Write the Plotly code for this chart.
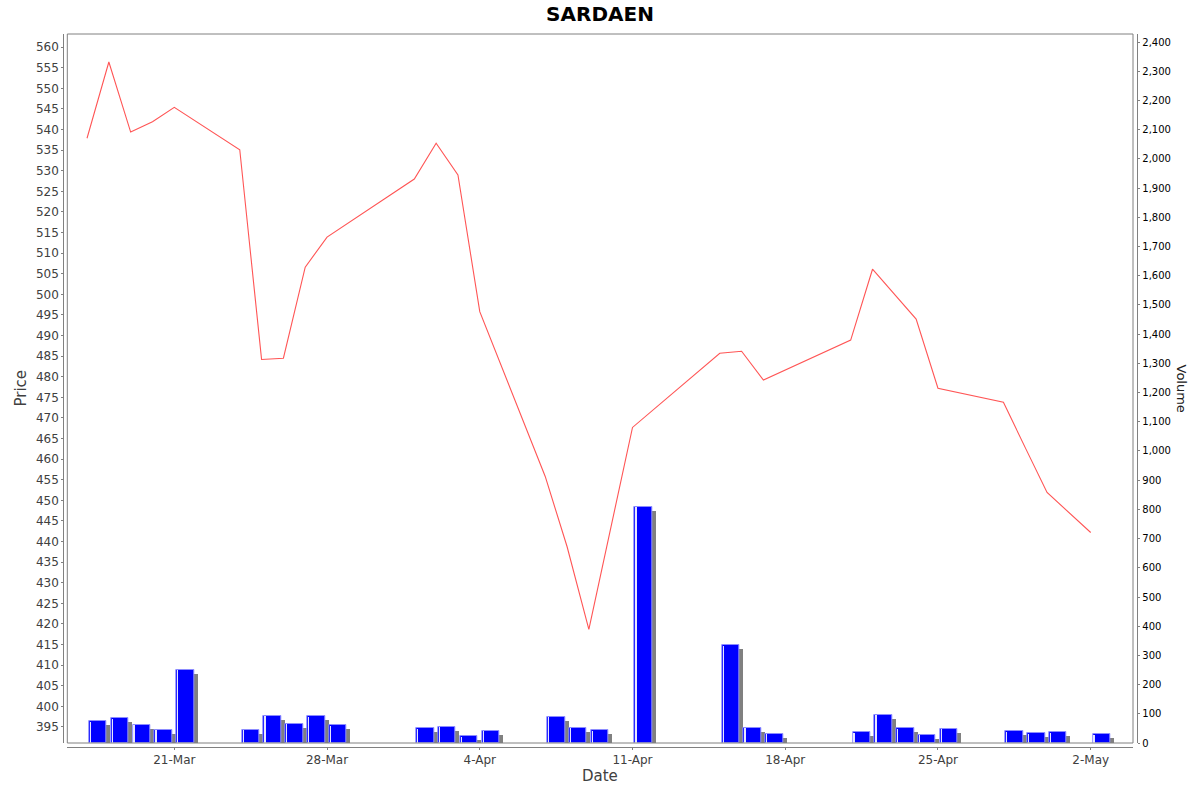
import pandas as pd
import plotly.graph_objects as go

# ---------------- data ----------------
dates = ["2024-03-17", "2024-03-18", "2024-03-19", "2024-03-20", "2024-03-21",
         "2024-03-24", "2024-03-25", "2024-03-26", "2024-03-27", "2024-03-28",
         "2024-04-01", "2024-04-02", "2024-04-03", "2024-04-04",
         "2024-04-07", "2024-04-08", "2024-04-09", "2024-04-11",
         "2024-04-15", "2024-04-16", "2024-04-17",
         "2024-04-21", "2024-04-22", "2024-04-23", "2024-04-24", "2024-04-25",
         "2024-04-28", "2024-04-29", "2024-04-30", "2024-05-02"]

prices = [537.9, 556.4, 539.4, 541.9, 545.4,
          535.1, 484.2, 484.5, 506.6, 513.9,
          528.0, 536.7, 529.0, 495.8,
          455.8, 438.8, 418.7, 467.7,
          485.7, 486.2, 479.2,
          488.9, 506.1, 500.0, 494.0, 477.2,
          473.8, 462.8, 451.9, 442.2]

volumes = [75, 84, 63, 45, 251,
           45, 94, 66, 91, 61,
           51, 56, 23, 42,
           90, 53, 43, 809,
           335, 53, 32,
           36, 97, 51, 29, 49,
           40, 33, 37, 30]

tick_dates = ["2024-03-21", "2024-03-28", "2024-04-04", "2024-04-11",
              "2024-04-18", "2024-04-25", "2024-05-02"]

title_text = "SARDAEN"

# ---------------- geometry / style ----------------
W, H = 1200, 792
ML, MR, MT, MB = 60, 60, 30, 40
PW, PH = W - ML - MR, H - MT - MB


def px_x(p):
    return (p - ML) / PW


def px_y(p):
    return (H - MB - p) / PH


plot_left, plot_right, plot_top, plot_bottom = 67.3, 1133.0, 34.0, 743.0
xdom = [px_x(plot_left), px_x(plot_right)]
ydom = [px_y(plot_bottom), px_y(plot_top)]

px_per_day = 21.819
vol_px_per_unit = 0.2918
day_ms = 86400000

d = pd.to_datetime(dates)
bar_center = d + pd.Timedelta(hours=12)
shadow_shift = pd.Timedelta(days=4 / px_per_day)
shadow_drop = 4 / vol_px_per_unit
shadow_x = bar_center + shadow_shift
shadow_y = [v - shadow_drop for v in volumes]
stripe_x = d + pd.Timedelta(days=0.17)

font = "DejaVu Sans"
axis_gray = "#808080"
label_gray = "#404040"

fig = go.Figure()

fig.add_trace(go.Bar(x=shadow_x, y=shadow_y, width=0.8 * day_ms,
                     marker=dict(color="#808080", line=dict(width=0)),
                     yaxis="y2", showlegend=False, hoverinfo="skip"))
fig.add_trace(go.Bar(x=bar_center, y=volumes, width=0.8 * day_ms,
                     marker=dict(color="#0000ff", line=dict(color="#8c8cff", width=1)),
                     yaxis="y2", showlegend=False, name="Volume"))
fig.add_trace(go.Bar(x=stripe_x, y=[v - 1.5 for v in volumes], width=0.06 * day_ms,
                     marker=dict(color="rgba(255,255,255,0.9)", line=dict(width=0)),
                     yaxis="y2", showlegend=False, hoverinfo="skip"))
fig.add_trace(go.Scatter(x=d, y=prices, mode="lines",
                         line=dict(color="#ff5555", width=1.1),
                         yaxis="y", showlegend=False, name="Price"))

fig.update_layout(
    width=W, height=H,
    margin=dict(l=ML, r=MR, t=MT, b=MB, autoexpand=False),
    paper_bgcolor="white", plot_bgcolor="white",
    barmode="overlay", bargap=0,
    font=dict(family=font, color=label_gray),
    title=dict(text="<b>" + title_text + "</b>", x=0.5, xanchor="center",
               xref="container", yref="container", y=1 - 13.5 / H, yanchor="middle",
               font=dict(family=font, size=20, color="black")),
    xaxis=dict(type="date", domain=xdom, anchor="free", position=px_y(746.7),
               range=[pd.Timestamp("2024-03-16 02:18"), pd.Timestamp("2024-05-03 22:32")],
               tickvals=tick_dates, tickformat="%-d-%b",
               tickfont=dict(family=font, size=12, color=label_gray),
               showline=True, linecolor=axis_gray, linewidth=1,
               ticks="outside", ticklen=2, tickcolor=axis_gray,
               showgrid=False, zeroline=False),
    yaxis=dict(domain=ydom, anchor="free", position=px_x(63.3), side="left",
               range=[391.1, 563.2], dtick=5, tick0=0,
               tickfont=dict(family=font, size=12, color=label_gray),
               showline=True, linecolor=axis_gray, linewidth=1,
               ticks="outside", ticklen=2, tickcolor=axis_gray,
               showgrid=False, zeroline=False),
    yaxis2=dict(overlaying="y", anchor="free", position=px_x(1137.3), side="right",
                range=[0, 2428], dtick=100, tick0=0, tickformat=",",
                tickfont=dict(family=font, size=10, color="black"),
                showline=True, linecolor=axis_gray, linewidth=1,
                ticks="outside", ticklen=2, tickcolor=axis_gray,
                showgrid=False, zeroline=False),
    shapes=[dict(type="rect", xref="paper", yref="paper",
                 x0=xdom[0], x1=xdom[1], y0=ydom[0], y1=ydom[1],
                 line=dict(color=axis_gray, width=1), fillcolor="rgba(0,0,0,0)",
                 layer="above")],
    annotations=[
        dict(text="Price", xref="paper", yref="paper", x=px_x(20), y=px_y(388.5),
             textangle=-90, showarrow=False, xanchor="center", yanchor="middle",
             font=dict(family=font, size=15, color=label_gray)),
        dict(text="Volume", xref="paper", yref="paper", x=px_x(1181), y=px_y(388.5),
             textangle=90, showarrow=False, xanchor="center", yanchor="middle",
             font=dict(family=font, size=13, color="#202020")),
        dict(text="Date", xref="paper", yref="paper", x=px_x(600), y=px_y(776),
             showarrow=False, xanchor="center", yanchor="middle",
             font=dict(family=font, size=15, color=label_gray)),
    ],
)

fig.write_html("out.html", config={"displayModeBar": False},
               post_script="document.body.style.margin='0';document.body.style.overflow='hidden';")
